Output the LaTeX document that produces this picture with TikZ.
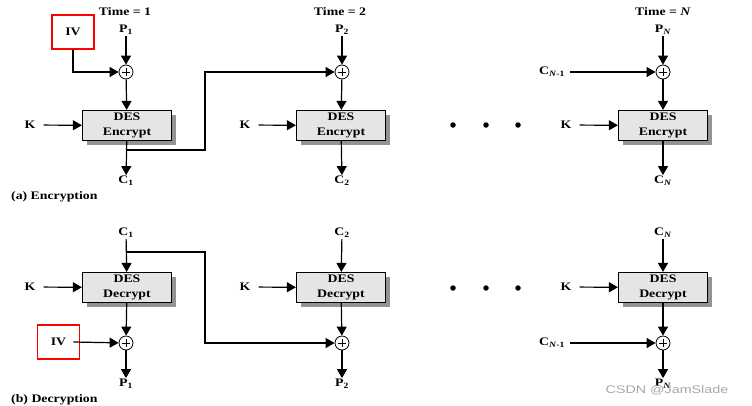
\documentclass[tikz,border=0pt]{standalone}
\usepackage{fontspec}
\setmainfont{Liberation Serif}[FakeStretch=1.2]
\newfontfamily\wmfont{Liberation Sans}[FakeStretch=1.3]
\usetikzlibrary{arrows.meta, positioning, shadows}
\tikzset{
    lbl/.style={font=\bfseries\fontsize{11.5}{12}\selectfont, inner sep=1pt},
    desbox/.style={draw, line width=1.2pt, fill=gray!20, minimum width=89pt, minimum height=30pt,
        align=center, inner sep=0pt, font=\bfseries\fontsize{11.5}{15}\selectfont,
        drop shadow={shadow xshift=4.5pt, shadow yshift=-4pt, fill=gray!85, opacity=1}},
    xor/.style={draw, circle, line width=0.8pt, minimum size=14pt, inner sep=0pt,
        path picture={
            \draw[line width=0.7pt] ([yshift=-3pt]path picture bounding box.north) -- ([yshift=3pt]path picture bounding box.south);
            \draw[line width=0.7pt] ([xshift=3pt]path picture bounding box.west) -- ([xshift=-3pt]path picture bounding box.east);
        }},
    ivbox/.style={draw=red, line width=1.6pt, minimum width=42pt, minimum height=34pt},
    flow/.style={-{Triangle[length=9pt,width=10pt]}, line width=1.2pt},
    dot/.style={circle, fill, minimum size=5.5pt, inner sep=0pt},
}
\begin{document}
\begin{tikzpicture}[x=1pt, y=-1pt]
\useasboundingbox (0,0) rectangle (752,405);

% (a) encryption, time = 1
\node[lbl] (t1) at (125,12) {Time = 1};
\node[lbl] (p1) at (126,30) {P\textsubscript{1}};
\node[xor] (x1) at (126,72) {};
\node[desbox] (e1) at (127,125.5) {DES\\Encrypt};
\node[lbl] (c1) at (126,181) {C\textsubscript{1}};
\node[lbl] (k1) at (30,125) {K};
\node[lbl, ivbox] (iv) at (73,32) {IV};

% time = 2
\node[lbl] (t2) at (340,12) {Time = 2};
\node[lbl] (p2) at (342,30) {P\textsubscript{2}};
\node[xor] (x2) at (342,72) {};
\node[desbox] (e2) at (341,125.5) {DES\\Encrypt};
\node[lbl] (c2) at (342,181) {C\textsubscript{2}};
\node[lbl] (k2) at (245,125) {K};

% time = N
\node[lbl] (tn) at (663,12) {Time = \textit{N}};
\node[lbl] (pn) at (663,30) {P\textsubscript{\textit{N}}};
\node[xor] (xn) at (663,72) {};
\node[desbox] (en) at (663,125.5) {DES\\Encrypt};
\node[lbl] (cn) at (663,181) {C\textsubscript{\textit{N}}};
\node[lbl] (kn) at (566,125) {K};
\node[lbl] (cm) at (552,72) {C\textsubscript{\textit{N}-1}};

\node[dot] (a1) at (453,125) {};
\node[dot] (a2) at (486,125) {};
\node[dot] (a3) at (518,125) {};

\node[lbl, anchor=west] (enc) at (10,197) {(a) Encryption};

\draw[flow] (p1) -- (x1);
\draw[flow] (iv.south) |- (x1);
\draw[flow] (x1) -- (e1);
\draw[flow, shorten <=7pt] (k1) -- (e1);
\draw[flow] (e1) -- (c1);
\coordinate (f1) at (205,150);
\draw[flow] (e1.south |- f1) -- (f1) |- (x2);

\draw[flow] (p2) -- (x2);
\draw[flow] (x2) -- (e2);
\draw[flow, shorten <=7pt] (k2) -- (e2);
\draw[flow] (e2) -- (c2);

\draw[flow] (pn) -- (xn);
\draw[flow, shorten <=4pt] (cm) -- (xn);
\draw[flow] (xn) -- (en);
\draw[flow, shorten <=7pt] (kn) -- (en);
\draw[flow] (en) -- (cn);

% (b) decryption, time = 1
\node[lbl] (dc1) at (126,233) {C\textsubscript{1}};
\node[desbox] (d1) at (127,287.5) {DES\\Decrypt};
\node[xor] (dx1) at (126,343) {};
\node[lbl] (dp1) at (126,384) {P\textsubscript{1}};
\node[lbl] (dk1) at (30,287) {K};
\node[lbl, ivbox] (div) at (58.5,342) {IV};

% time = 2
\node[lbl] (dc2) at (342,233) {C\textsubscript{2}};
\node[desbox] (d2) at (341,287.5) {DES\\Decrypt};
\node[xor] (dx2) at (342,343) {};
\node[lbl] (dp2) at (342,384) {P\textsubscript{2}};
\node[lbl] (dk2) at (245,287) {K};

% time = N
\node[lbl] (dcn) at (663,233) {C\textsubscript{\textit{N}}};
\node[desbox] (dn) at (663,287.5) {DES\\Decrypt};
\node[xor] (dxn) at (663,343) {};
\node[lbl] (dpn) at (663,384) {P\textsubscript{\textit{N}}};
\node[lbl] (dkn) at (566,287) {K};
\node[lbl] (dcm) at (552,343) {C\textsubscript{\textit{N}-1}};

\node[dot] (b1) at (453,288) {};
\node[dot] (b2) at (486,288) {};
\node[dot] (b3) at (518,288) {};

\node[lbl, anchor=west] (dec) at (10,400) {(b) Decryption};

\draw[flow] (dc1) -- (d1);
\coordinate (g1) at (205,252);
\draw[flow] (dc1.south |- g1) -- (g1) |- (dx2);
\draw[flow, shorten <=7pt] (dk1) -- (d1);
\draw[flow] (d1) -- (dx1);
\draw[flow] ([xshift=-7pt]div.east) -- (dx1);
\draw[flow] (dx1) -- (dp1);

\draw[flow] (dc2) -- (d2);
\draw[flow, shorten <=7pt] (dk2) -- (d2);
\draw[flow] (d2) -- (dx2);
\draw[flow] (dx2) -- (dp2);

\draw[flow] (dcn) -- (dn);
\draw[flow, shorten <=7pt] (dkn) -- (dn);
\draw[flow] (dn) -- (dxn);
\draw[flow, shorten <=4pt] (dcm) -- (dxn);
\draw[flow] (dxn) -- (dpn);

\node[text=gray!70, font=\wmfont\fontsize{11}{12}\selectfont, inner sep=0pt] (wm) at (667,390) {CSDN @JamSlade};
\end{tikzpicture}
\end{document}
